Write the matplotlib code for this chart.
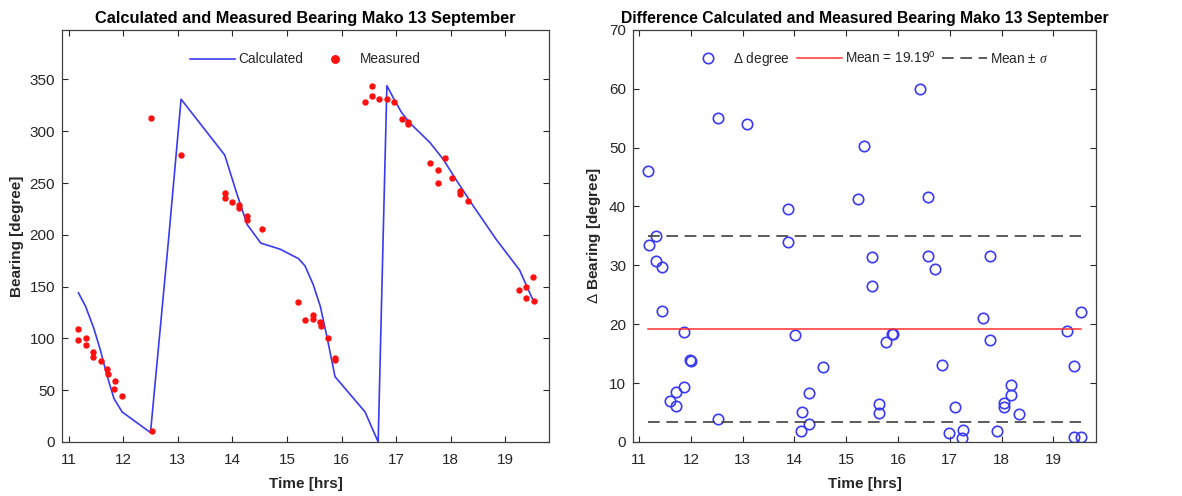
import numpy as np
import matplotlib
matplotlib.use("Agg")
import matplotlib.pyplot as plt

plt.rcParams['font.family'] = ['Liberation Sans', 'DejaVu Sans']
plt.rcParams['mathtext.fontset'] = 'custom'
plt.rcParams['mathtext.rm'] = 'Liberation Sans'
plt.rcParams['mathtext.it'] = 'Liberation Serif:italic'

# ==============================
# DATA
# ==============================

# calculated bearing (line)
calc_time = [11.18, 11.31, 11.46, 11.58, 11.71, 11.83, 11.98, 12.50, 12.83, 13.06,
             13.86, 14.08, 14.27, 14.52, 14.88, 15.21, 15.33, 15.48, 15.61, 15.73,
             15.88, 16.43, 16.67, 16.76, 16.83, 16.95, 17.10, 17.25, 17.62, 17.86,
             18.10, 18.41, 18.84, 19.26, 19.48, 19.51]
calc_bearing = [144, 131, 110, 89, 63, 42, 29, 9, 195, 331,
                277, 240, 210, 192, 186, 177, 170, 152, 131, 102,
                63, 29, 0, 195, 344, 332, 318, 308, 289, 273,
                253, 228, 195, 166, 140, 137]

# measured bearing (dots)
meas_time = [11.18, 11.17, 11.31, 11.32, 11.44, 11.44, 11.59, 11.71, 11.72, 11.85,
             11.84, 11.98, 12.52, 12.51, 13.06, 13.86, 13.86, 13.99, 14.13, 14.13,
             14.27, 14.27, 14.54, 15.21, 15.33, 15.47, 15.47, 15.61, 15.62, 15.75,
             15.88, 15.88, 16.42, 16.55, 16.55, 16.69, 16.83, 16.96, 17.10, 17.22,
             17.22, 17.62, 17.76, 17.76, 17.89, 18.03, 18.17, 18.17, 18.31, 19.25,
             19.37, 19.37, 19.51, 19.52]
meas_bearing = [109, 98, 100, 94, 87, 82, 78, 70, 66, 59,
                51, 44, 11, 313, 277, 240, 236, 232, 229, 226,
                218, 214, 206, 135, 118, 123, 119, 116, 112, 100,
                81, 79, 328, 344, 334, 331, 331, 328, 312, 309,
                307, 269, 263, 250, 274, 255, 242, 239, 233, 147,
                150, 139, 159, 136]

# difference calculated - measured
diff_time = [11.18, 11.19, 11.32, 11.32, 11.45, 11.45, 11.59, 11.71, 11.72, 11.86,
             11.87, 11.99, 12.00, 12.52, 12.53, 13.08, 13.87, 13.87, 14.01, 14.13,
             14.14, 14.29, 14.29, 14.56, 15.22, 15.35, 15.50, 15.50, 15.63, 15.63,
             15.76, 15.89, 15.90, 16.43, 16.57, 16.57, 16.71, 16.84, 16.98, 17.11,
             17.24, 17.25, 17.64, 17.78, 17.78, 17.91, 18.04, 18.05, 18.19, 18.19,
             18.33, 19.26, 19.39, 19.39, 19.53, 19.54]
diff_deg = [46.0, 33.5, 35.0, 30.8, 29.7, 22.3, 7.0, 8.4, 6.1, 9.4,
            18.6, 14.0, 13.8, 55.0, 3.85, 54.0, 39.5, 33.9, 18.1, 1.9,
            5.15, 8.3, 3.05, 12.8, 41.2, 50.2, 31.4, 26.5, 6.45, 4.9,
            16.9, 18.3, 18.4, 60.0, 41.6, 31.6, 29.3, 13.1, 1.5, 6.0,
            0.7, 2.0, 21.1, 31.6, 17.3, 1.9, 6.6, 6.0, 9.6, 8.0,
            4.75, 18.9, 12.9, 0.9, 22.0, 0.9]

diff_mean = 19.19
diff_std = 15.85

# ==============================
# FIGURE
# ==============================

TXT = '#262626'
fig = plt.figure(figsize=(11.82, 4.96), dpi=100)
ax1 = fig.add_axes([0.0525, 0.109, 0.412, 0.831])
ax2 = fig.add_axes([0.5355, 0.109, 0.392, 0.831])

for ax in (ax1, ax2):
    ax.tick_params(direction='in', top=True, right=True, labelsize=11,
                   colors=TXT, length=4, width=0.8)
    ax.tick_params(axis='x', pad=8)
    ax.tick_params(axis='y', pad=5)
    for s in ax.spines.values():
        s.set_color('#404040')
        s.set_linewidth(0.9)

# left panel
ax1.plot(calc_time, calc_bearing, color='#3a3af2', lw=1.2, label='Calculated')
ax1.plot(meas_time, meas_bearing, 'o', color='#ff1010', ms=3.6, ls='none',
         label='Measured')
ax1.set_xlim(10.88, 19.8)
ax1.set_ylim(0, 398)
ax1.set_xticks(range(11, 20))
ax1.set_yticks(range(0, 351, 50))
ax1.set_xlabel('Time [hrs]', fontsize=11, fontweight='bold', color=TXT, labelpad=7)
ax1.set_ylabel('Bearing [degree]', fontsize=11, fontweight='bold', color=TXT)
ax1.set_title('Calculated and Measured Bearing Mako 13 September',
              fontsize=11.8, fontweight='bold', color='black', pad=5)
leg1 = ax1.legend(loc='upper center', bbox_to_anchor=(0.5, 0.975), ncol=2,
                  frameon=False, fontsize=9.8, handlelength=3.3,
                  handletextpad=0.2, columnspacing=0.7, markerscale=1.5)
for t in leg1.get_texts():
    t.set_color(TXT)

# right panel
ax2.plot(diff_time, diff_deg, 'o', mfc='none', mec='#3a3af2', mew=1.2, ms=7.5,
         ls='none', label=r'$\Delta$ degree')
t0, t1 = diff_time[0], diff_time[-1]
ax2.plot([t0, t1], [diff_mean, diff_mean], color='#ff3030', lw=1.1,
         label='Mean = %.2f$^{\\mathrm{o}}$' % diff_mean)
ax2.plot([t0, t1], [diff_mean + diff_std] * 2, color='#404040', lw=1.2,
         ls=(0, (7, 4)), label=r'Mean $\pm$ $\sigma$')
ax2.plot([t0, t1], [diff_mean - diff_std] * 2, color='#404040', lw=1.2,
         ls=(0, (7, 4)))
ax2.set_xlim(10.88, 19.83)
ax2.set_ylim(0, 70)
ax2.set_xticks(range(11, 20))
ax2.set_yticks(range(0, 71, 10))
ax2.set_xlabel('Time [hrs]', fontsize=11, fontweight='bold', color=TXT, labelpad=7)
ax2.set_ylabel(r'$\Delta$ Bearing [degree]', fontsize=11, fontweight='bold',
               color=TXT)
ax2.set_title('Difference Calculated and Measured Bearing Mako 13 September',
              fontsize=11.3, fontweight='bold', color='black', pad=5)
leg2 = ax2.legend(loc='upper center', bbox_to_anchor=(0.505, 0.98), ncol=3,
                  frameon=False, fontsize=9.8, handlelength=3.3,
                  handletextpad=0.2, columnspacing=0.5)
for t in leg2.get_texts():
    t.set_color(TXT)

fig.savefig('out.png', dpi=100)
